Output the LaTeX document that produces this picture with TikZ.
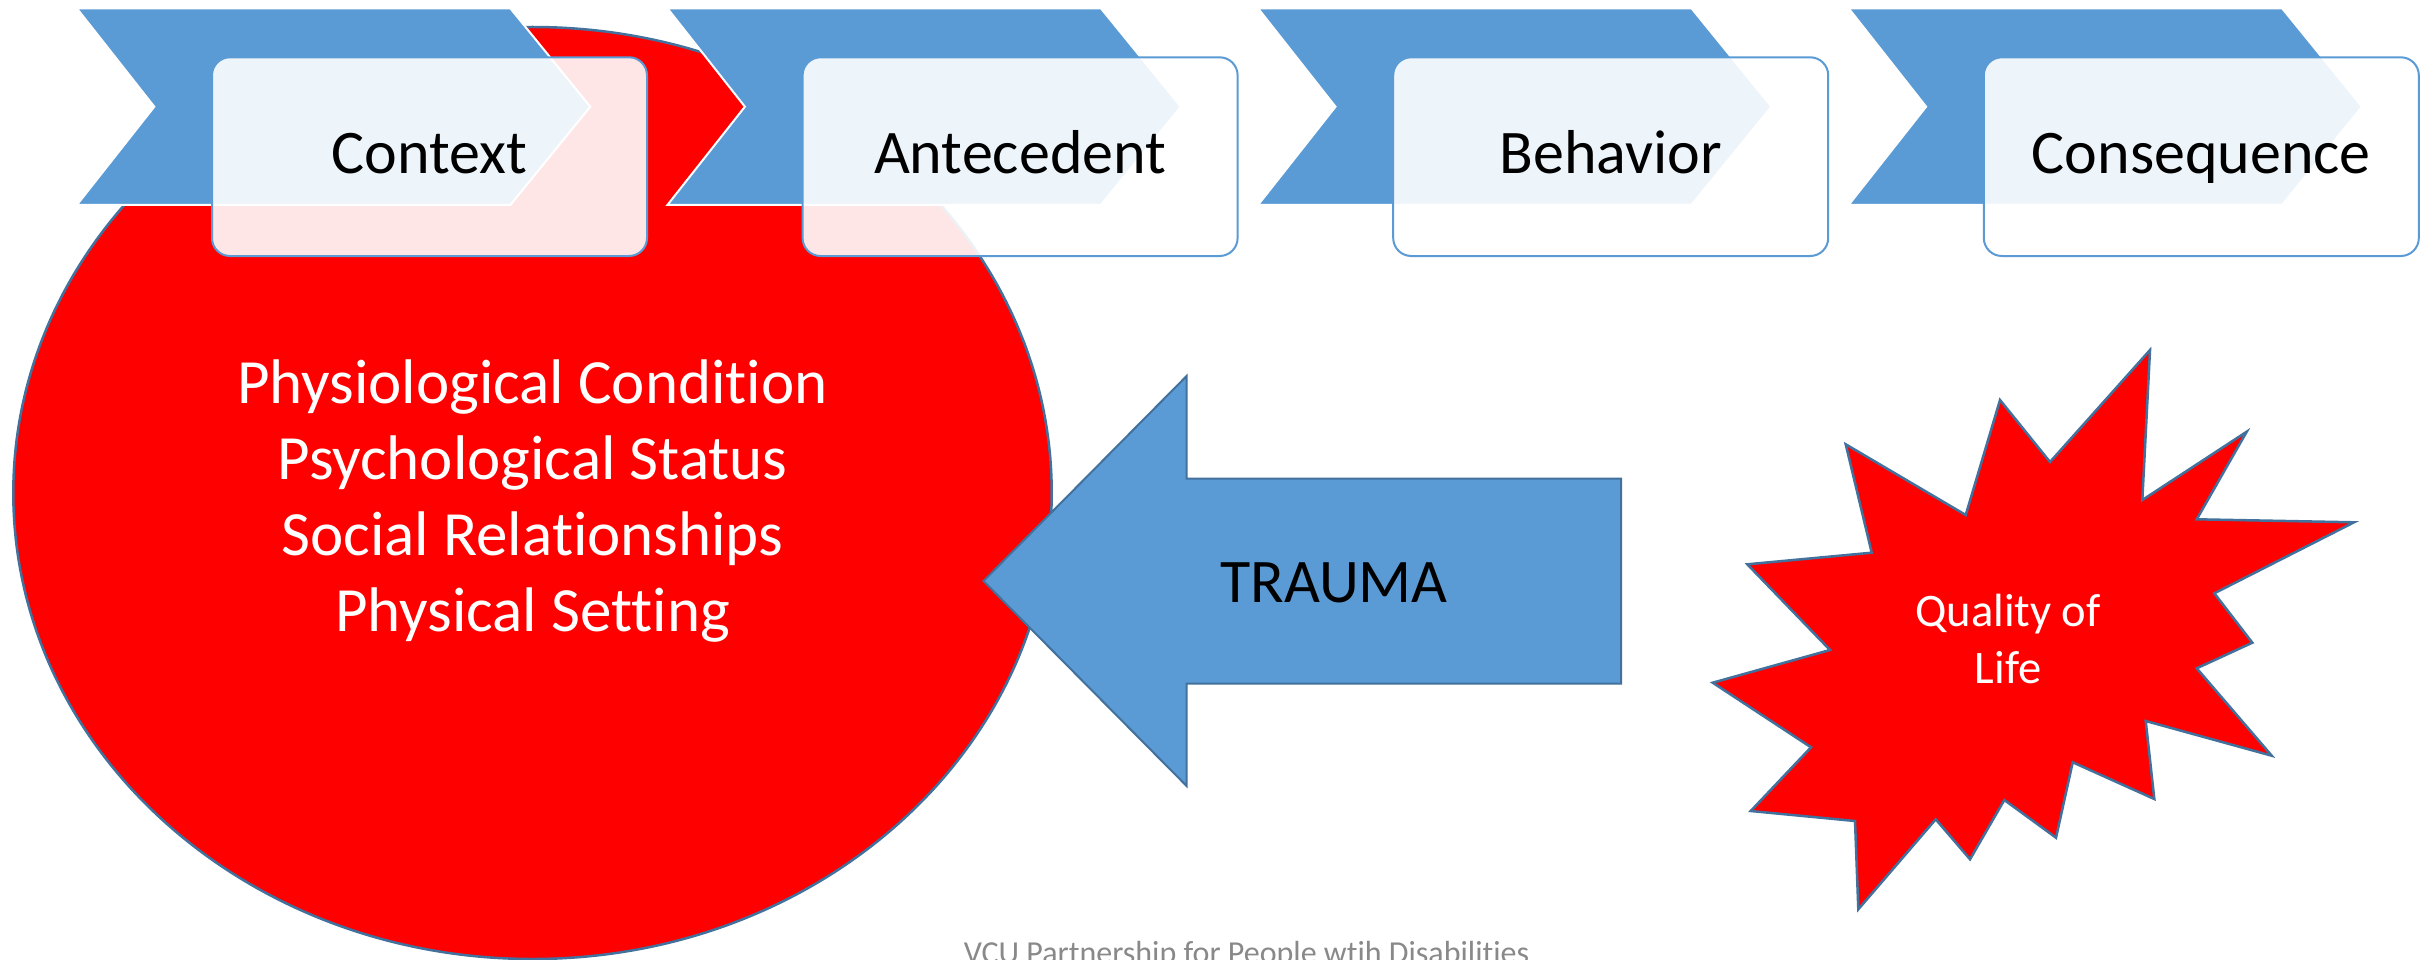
\documentclass[tikz,border=0pt]{standalone}
\usepackage{fontspec}
\setmainfont{Carlito}[Ligatures=NoCommon]
\definecolor{accentblue}{HTML}{5B9BD5}
\definecolor{edgeblue}{HTML}{41719C}
\definecolor{footgray}{HTML}{898989}
\tikzset{
  chev/.style={fill=accentblue, draw=white, line width=2pt, line join=miter},
  stepbox/.style={draw=accentblue, line width=2pt, fill=white, fill opacity=0.9, rounded corners=18pt},
  steplabel/.style={anchor=base, font=\fontsize{62}{75}\selectfont, text=black, inner sep=0pt},
  blob/.style={fill=red, draw=edgeblue, line width=2.5pt, line join=miter},
  bigarrow/.style={fill=accentblue, draw=edgeblue, line width=2pt, line join=miter},
  whitetext/.style={align=center, text=white},
}
\begin{document}
\begin{tikzpicture}[x=1pt,y=-1pt]
\fill[white] (0,0) rectangle (2435,960);
\useasboundingbox (0,0) rectangle (2435,960);
\clip (0,0) rectangle (2435,960);
% context ellipse
\draw[blob] (532.5,493) ellipse [x radius=519.2, y radius=466];
% chevrons
\foreach \i in {0,1,2,3}{
  \pgfmathsetmacro{\L}{76.8+590.6*\i}
  \draw[chev] (\L,8.3) -- ++(433.5,0) -- ++(80,98.4) -- ++(-80,98.3) -- ++(-433.5,0) -- ++(77.5,-98.3) -- cycle;
}
% boxes and labels
\foreach \i/\t in {0/Context,1/Antecedent,2/Behavior,3/Consequence}{
  \pgfmathsetmacro{\L}{76.8+590.6*\i}
  \draw[stepbox] (\L+135.2,57.3) rectangle (\L+570.2,256);
  \node[steplabel] (label\i) at (\L+352.7,174) {\t};
}
% ellipse text
\node[whitetext, font=\fontsize{63}{76}\selectfont] (factors) at (532.5,501)
  {Physiological Condition\\Psychological Status\\Social Relationships\\Physical Setting};
% trauma arrow
\draw[bigarrow] (983.5,581) -- (1186.6,376) -- (1186.6,478.5) -- (1621,478.5) -- (1621,683.5) -- (1186.6,683.5) -- (1186.6,786) -- cycle;
\node[anchor=base, inner sep=0pt, font=\fontsize{62}{75}\selectfont] (trauma) at (1334,602) {TRAUMA};
% quality of life burst
\draw[blob] (2150,350) -- (2142.3,500) -- (2246.7,431.7) -- (2196.7,519.3) -- (2354,522.3)
  -- (2214.3,593.3) -- (2252.3,642.7) -- (2196.7,668.3) -- (2271.7,755.7) -- (2145.7,721)
  -- (2154.3,799) -- (2072.7,762.3) -- (2056,837.7) -- (2004.3,800) -- (1970,859.3)
  -- (1935.7,819.3) -- (1858.3,909.3) -- (1855,821) -- (1750.7,811) -- (1811,747.3)
  -- (1712.7,682.7) -- (1830,650) -- (1747.3,564.3) -- (1871.7,552.7) -- (1845.7,444.3)
  -- (1965.7,515) -- (2000,400) -- (2050,462) -- cycle;
\node[whitetext, font=\fontsize{46.6}{57}\selectfont] (qol) at (2008,638.5) {Quality of\\Life};
% footer
\node[anchor=base, inner sep=0pt, text=footgray, font=\fontsize{32}{38}\selectfont] (footer) at (1246.5,963)
  {VCU Partnership for People wtih Disabilities};
\end{tikzpicture}
\end{document}
